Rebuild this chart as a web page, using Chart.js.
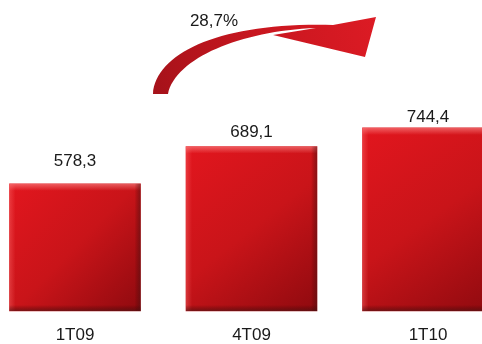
<!DOCTYPE html>
<html>
<head>
<meta charset="utf-8">
<script src="https://cdn.jsdelivr.net/npm/chart.js@4/dist/chart.umd.min.js"></script>
<style>
  body { margin: 0; background: #fff; }
  canvas { display: block; }
</style>
</head>
<body>
<canvas id="canva" width="482" height="344"></canvas>
<script>
const categories = ["1T09", "4T09", "1T10"];
const values = [578.3, 689.1, 744.4];
const growthLabel = "28,7%";

const fmt = (v) => v.toFixed(1).replace(".", ",");

// diagonal red gradient for each bar, built from the scales
const barFill = (ctx) => {
  const chart = ctx.chart;
  const xs = chart.scales.x, ys = chart.scales.y;
  if (!xs || !ys || ctx.dataIndex === undefined) return "#c8141a";
  const cx = xs.getPixelForValue(ctx.dataIndex);
  const top = ys.getPixelForValue(values[ctx.dataIndex]);
  const bottom = ys.getPixelForValue(ys.min);
  if (![cx, top, bottom].every(Number.isFinite)) return "#c8141a";
  const g = chart.ctx.createLinearGradient(cx - 65, top, cx + 65, bottom);
  g.addColorStop(0, "#e2161e");
  g.addColorStop(0.5, "#c91419");
  g.addColorStop(1, "#8f0a0f");
  return g;
};

const bevel = {
  id: "bevel",
  afterDatasetsDraw(chart) {
    const c = chart.ctx;
    chart.getDatasetMeta(0).data.forEach((bar) => {
      const l = bar.x - bar.width / 2, r = bar.x + bar.width / 2;
      const t = bar.y, b = bar.base;
      c.save();
      let g = c.createLinearGradient(0, t, 0, t + 7);
      g.addColorStop(0, "rgba(255,150,150,0.55)");
      g.addColorStop(1, "rgba(255,150,150,0)");
      c.fillStyle = g;
      c.fillRect(l, t, r - l, 7);
      g = c.createLinearGradient(l, 0, l + 6, 0);
      g.addColorStop(0, "rgba(255,120,120,0.35)");
      g.addColorStop(1, "rgba(255,120,120,0)");
      c.fillStyle = g;
      c.fillRect(l, t, 6, b - t);
      g = c.createLinearGradient(0, b - 6, 0, b);
      g.addColorStop(0, "rgba(60,0,0,0)");
      g.addColorStop(1, "rgba(70,20,20,0.6)");
      c.fillStyle = g;
      c.fillRect(l, b - 6, r - l, 6);
      g = c.createLinearGradient(r - 6, 0, r, 0);
      g.addColorStop(0, "rgba(60,0,0,0)");
      g.addColorStop(1, "rgba(70,20,20,0.5)");
      c.fillStyle = g;
      c.fillRect(r - 6, t, 6, b - t);
      c.restore();
    });
  }
};

const valueText = {
  id: "valueText",
  afterDatasetsDraw(chart, args, opts) {
    const c = chart.ctx;
    c.save();
    c.font = "17px 'Liberation Sans', Arial, sans-serif";
    c.fillStyle = "#1a1a1a";
    c.textAlign = "center";
    c.textBaseline = "middle";
    chart.getDatasetMeta(0).data.forEach((bar, i) => {
      c.fillText(fmt(values[i]), bar.x, bar.y - opts.offsets[i]);
    });
    c.restore();
  }
};

// curved growth arrow above the bars
const growthArrow = {
  id: "growthArrow",
  afterDraw(chart) {
    const c = chart.ctx;
    c.save();
    const g = c.createLinearGradient(153, 94, 375, 20);
    g.addColorStop(0, "#a5121a");
    g.addColorStop(0.5, "#c8161f");
    g.addColorStop(1, "#dc1b24");
    c.fillStyle = g;
    c.beginPath();
    c.moveTo(153, 94);
    c.bezierCurveTo(156, 52, 222, 22, 333, 25);
    c.lineTo(376, 17);
    c.lineTo(365, 57);
    c.lineTo(273, 35);
    c.lineTo(316, 28);
    c.bezierCurveTo(240, 31, 176, 58, 168, 94);
    c.closePath();
    c.fill();
    c.font = "17px 'Liberation Sans', Arial, sans-serif";
    c.fillStyle = "#1a1a1a";
    c.textAlign = "center";
    c.textBaseline = "middle";
    c.fillText(growthLabel, 214, 21);
    c.restore();
  }
};

const data = {
  labels: categories,
  datasets: [
    {
      data: values,
      base: 200,
      backgroundColor: barFill,
      borderWidth: 0,
      barThickness: 131,
      clip: false,
    },
  ],
};

const config = {
  type: "bar",
  data: data,
  options: {
    responsive: false,
    animation: false,
    layout: { padding: { left: 75, right: 54, top: 42, bottom: -16 } },
    scales: {
      x: {
        offset: false,
        grid: { display: false, drawTicks: false },
        border: { display: false },
        ticks: {
          padding: 16,
          maxRotation: 0,
          color: "#1a1a1a",
          font: { family: "'Liberation Sans', Arial, sans-serif", size: 17, lineHeight: 1 },
        },
      },
      y: { display: false, min: 200, max: 1000 },
    },
    plugins: {
      legend: { display: false },
      tooltip: { enabled: false },
      valueText: { offsets: [22, 14, 11] },
    },
  },
  plugins: [bevel, valueText, growthArrow],
};
const myChart = new Chart(document.getElementById("canva"), config);
</script>
</body>
</html>
